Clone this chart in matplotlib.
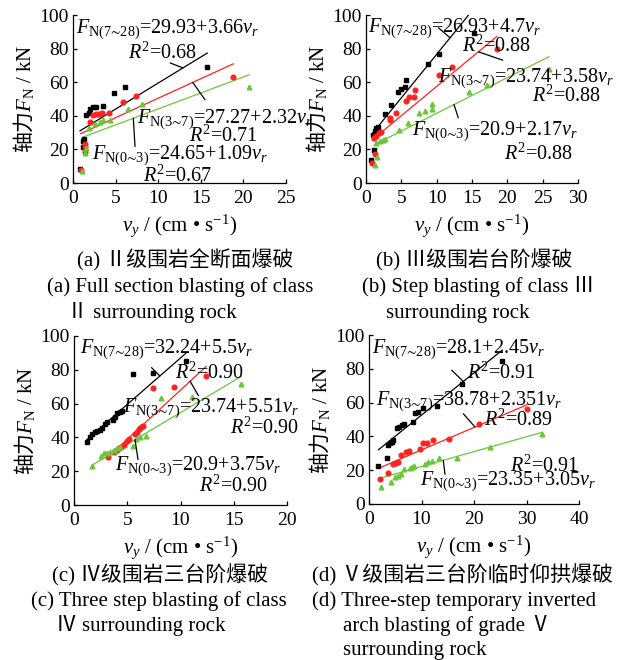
import matplotlib
matplotlib.use('Agg')
import matplotlib.pyplot as plt
import numpy as np

plt.rcParams['font.family'] = ['Liberation Serif', 'Noto Sans CJK SC']
plt.rcParams['mathtext.fontset'] = 'custom'
plt.rcParams['mathtext.rm'] = 'Liberation Serif'
plt.rcParams['mathtext.it'] = 'Liberation Serif:italic'
plt.rcParams['mathtext.bf'] = 'Liberation Serif:bold'

# ---- (a) class II, full section blasting ----
a_k_x = [0.82, 1.21, 1.21, 1.3, 1.53, 1.88, 2.0, 2.3, 2.66, 3.49, 4.85, 6.1, 15.76]
a_k_y = [8.1, 21.2, 25.2, 26.0, 40.5, 41.8, 43.9, 45.0, 45.0, 45.8, 53.4, 57.0, 69.2]
a_r_x = [0.9, 1.41, 1.41, 1.41, 2.0, 2.3, 2.7, 3.1, 3.36, 4.2, 5.83, 7.4, 18.8]
a_r_y = [7.7, 18.6, 21.2, 23.2, 36.5, 40.5, 41.0, 41.0, 41.5, 41.8, 48.4, 51.8, 62.9]
a_g_x = [1.02, 1.41, 1.53, 1.9, 2.6, 3.17, 3.49, 4.34, 6.49, 8.06, 20.7]
a_g_y = [7.1, 18.0, 20.6, 32.5, 35.4, 36.5, 37.5, 37.5, 44.0, 47.0, 57.0]
a_fit = [(28.5, 3.1), (27.27, 2.32), (25.1, 1.9)]
a_eq = [('29.93', '3.66', '0.68'), ('27.27', '2.32', '0.71'), ('24.65', '1.09', '0.67')]

# ---- (b) class III, step blasting ----
b_k_x = [0.75, 1.08, 0.94, 1.22, 1.41, 1.7, 2.73, 3.58, 4.52, 5.0, 5.46, 5.65, 8.77, 10.27, 15.3]
b_k_y = [13.7, 19.6, 28.6, 31.2, 32.5, 33.5, 41.1, 46.4, 54.4, 55.8, 57.0, 61.3, 70.6, 76.8, 89.0]
b_r_x = [0.85, 1.32, 1.08, 1.41, 1.79, 2.17, 3.4, 3.44, 4.24, 5.6, 6.12, 6.73, 6.87, 10.36, 12.15, 18.5]
b_r_y = [11.7, 17.3, 26.6, 28.0, 29.6, 30.4, 38.5, 37.5, 41.8, 49.0, 51.0, 51.0, 55.4, 64.3, 69.2, 79.6]
b_g_x = [1.22, 1.55, 1.41, 2.02, 2.36, 2.73, 4.7, 5.93, 7.44, 8.3, 9.33, 9.33, 14.6, 17.1, 25.9]
b_g_y = [10.7, 15.7, 23.6, 25.2, 25.6, 26.0, 31.5, 35.9, 41.5, 43.0, 44.2, 47.0, 54.4, 58.3, 67.7]
b_fit = [(24.8, 5.18), (22.6, 3.49), (20.3, 2.12)]
b_eq = [('26.93', '4.7', '0.88'), ('23.74', '3.58', '0.88'), ('20.9', '2.17', '0.88')]

# ---- (c) class IV, three step blasting ----
c_k_x = [1.19, 1.5, 1.72, 1.94, 2.19, 2.44, 2.66, 2.88, 3.07, 3.69, 3.82, 4.07, 4.32, 4.54, 5.57, 7.45, 10.49]
c_k_y = [37.1, 40.4, 41.8, 43.0, 43.8, 44.4, 45.7, 47.7, 48.9, 50.3, 52.2, 54.2, 55.2, 55.6, 77.3, 77.9, 85.2]
c_r_x = [3.19, 3.76, 4.01, 4.23, 4.44, 4.69, 4.95, 5.16, 5.7, 5.89, 6.1, 6.32, 6.5, 7.45, 9.39, 12.4]
c_r_y = [28.6, 31.2, 32.5, 33.5, 34.5, 35.5, 37.9, 39.0, 41.8, 43.0, 45.0, 46.3, 46.9, 69.4, 70.0, 76.5]
c_g_x = [1.72, 2.5, 2.82, 3.13, 3.38, 3.76, 4.07, 4.32, 5.57, 5.79, 6.2, 6.73, 8.2, 11.1, 15.7]
c_g_y = [23.3, 29.2, 30.6, 30.6, 31.6, 32.5, 33.5, 34.5, 35.1, 39.0, 40.4, 41.0, 63.5, 64.1, 71.4]
c_fit = [(32.0, 5.5), (9.8, 5.82), (17.2, 3.75)]
c_eq = [('32.24', '5.5', '0.90'), ('23.74', '5.51', '0.90'), ('20.9', '3.75', '0.90')]

# ---- (d) class V, three step with temporary invert ----
d_k_x = [1.78, 3.37, 3.68, 4.0, 4.32, 4.63, 5.27, 5.71, 6.22, 6.73, 8.44, 8.76, 9.27, 10.34, 12.9, 17.66, 25.4]
d_k_y = [22.7, 27.4, 34.9, 35.9, 36.9, 37.9, 44.8, 45.7, 46.7, 47.2, 48.3, 53.7, 54.3, 57.0, 58.2, 70.8, 84.6]
d_r_x = [2.1, 3.68, 4.63, 5.08, 5.59, 6.1, 6.98, 7.62, 9.71, 10.34, 10.99, 12.25, 15.24, 20.95, 30.03]
d_r_y = [14.8, 18.2, 23.5, 24.1, 24.7, 29.0, 30.6, 31.4, 32.5, 35.9, 35.9, 37.9, 38.5, 47.2, 56.2]
d_g_x = [2.29, 4.19, 4.95, 5.46, 6.1, 6.73, 7.81, 8.25, 8.63, 10.67, 11.3, 11.94, 13.33, 16.7, 23.05, 33.0]
d_g_y = [10.3, 13.2, 16.2, 16.8, 17.6, 20.7, 21.5, 22.1, 22.7, 23.5, 25.0, 25.6, 27.0, 27.0, 33.9, 41.2]
d_fit = [(27.6, 2.5), (18.7, 1.33), (13.4, 0.88)]
d_eq = [('28.1', '2.45', '0.91'), ('38.78', '2.351', '0.89'), ('23.35', '3.05', '0.91')]

# unicode tilde operator, written literally so mathtext does not pad it like \sim
ranges = ['7\u223c28', '3\u223c7', '0\u223c3']
markers = ['s', 'o', '^']
colors = ['#000000', '#ff2222', '#6cc63a']

W, H = 627, 660
fig = plt.figure(figsize=(W / 100, H / 100), dpi=100)


def box(l, r, b, t):
    return [l / W, 1 - b / H, (r - l) / W, (b - t) / H]


panels = [
    dict(rect=box(73, 286, 183, 15), xmax=25,
         pts=[(a_k_x, a_k_y), (a_r_x, a_r_y), (a_g_x, a_g_y)], fit=a_fit, eq=a_eq,
         eq_pos=[(0.014, 0.891), (0.299, 0.359), (0.088, 0.141)],
         r2_pos=[(0.26, 0.742), (0.546, 0.246), (0.33, 0.008)],
         lead=[(12.9, -12.7, 5), (14.05, 12.3, -17.3), (7.08, 1.7, -28.3)]),
    dict(rect=box(366, 578, 183, 15), xmax=30,
         pts=[(b_k_x, b_k_y), (b_r_x, b_r_y), (b_g_x, b_g_y)], fit=b_fit, eq=b_eq,
         eq_pos=[(0.011, 0.90), (0.341, 0.603), (0.216, 0.286)],
         r2_pos=[(0.451, 0.782), (0.782, 0.484), (0.651, 0.141)],
         lead=[(11.9, -11.7, 10), (15.9, 24.4, -8.4), (12.45, 4.3, -13.3)]),
    dict(rect=box(74, 287, 505, 336), xmax=20,
         pts=[(c_k_x, c_k_y), (c_r_x, c_r_y), (c_g_x, c_g_y)], fit=c_fit, eq=c_eq,
         eq_pos=[(0.028, 0.898), (0.232, 0.552), (0.192, 0.211)],
         r2_pos=[(0.474, 0.744), (0.732, 0.424), (0.588, 0.079)],
         lead=[(8.06, -8.3, 8.4), (10.9, 8.3, -14.3), (5.73, 3, -20)]),
    dict(rect=box(369, 579, 504, 335), xmax=40,
         pts=[(d_k_x, d_k_y), (d_r_x, d_r_y), (d_g_x, d_g_y)], fit=d_fit, eq=d_eq,
         eq_pos=[(0.013, 0.892), (0.033, 0.586), (0.243, 0.112)],
         r2_pos=[(0.465, 0.738), (0.548, 0.462), (0.671, 0.191)],
         lead=[(17.96, -11.6, 11.3), (20.19, -11.7, 13.3), (14.15, 1.7, -14)]),
]

for p in panels:
    ax = fig.add_axes(p['rect'])
    for (xs, ys), (b0, k), m, c in zip(p['pts'], p['fit'], markers, colors):
        ax.plot(xs, ys, ls='none', marker=m, ms=3.4, color=c, mec=c, zorder=3)
        xx = np.array([min(xs), max(xs)])
        ax.plot(xx, b0 + k * xx, color=c, lw=0.9, zorder=2)

    for i in range(3):
        b0, k = p['fit'][i]
        lx, dx, dy = p['lead'][i]
        ax.annotate('', xy=(lx, b0 + k * lx), xytext=(dx, dy), textcoords='offset pixels',
                    arrowprops=dict(arrowstyle='-', lw=0.9, color='k', shrinkA=0, shrinkB=0))
        a0, a1, r2 = p['eq'][i]
        ex, ey = p['eq_pos'][i]
        ax.text(ex, ey, r'$F_{\mathrm{N(%s)}}$=%s+%s$v_r$' % (ranges[i], a0, a1),
                transform=ax.transAxes, fontsize=14.5, ha='left', va='baseline', zorder=4)
        rx, ry = p['r2_pos'][i]
        ax.text(rx, ry, r'$R^2$=%s' % r2, transform=ax.transAxes, fontsize=14.5,
                ha='left', va='baseline', zorder=4)

    ax.set_xlim(0, p['xmax'])
    ax.set_ylim(0, 100)
    ax.set_xticks(np.arange(0, p['xmax'] + 1, 5 if p['xmax'] <= 30 else 10))
    ax.set_yticks(np.arange(0, 101, 20))
    for s in ['top', 'right']:
        ax.spines[s].set_visible(False)
    for s in ['left', 'bottom']:
        ax.spines[s].set_linewidth(0.9)
    ax.tick_params(direction='in', length=3, width=0.9, labelsize=14, pad=3)
    ax.tick_params(axis='x', pad=5)
    ax.set_xlabel(r'$v_y$ / (cm • s$^{-1}$)', fontsize=15)
    ax.xaxis.set_label_coords(0.5, -0.175)
    ax.set_ylabel(r'轴力$F_{\mathrm{N}}\ /\ \mathrm{kN}$', fontsize=15, family='Noto Sans CJK SC')
    ax.yaxis.set_label_coords(-0.175, 0.5)

# captions: (left px, baseline px, text)
captions = [
    (77, 266, '(a) Ⅱ级围岩全断面爆破'),
    (47, 292, '(a) Full section blasting of class'),
    (67, 318, 'Ⅱ surrounding rock'),
    (376, 266, '(b) Ⅲ级围岩台阶爆破'),
    (362, 292, '(b) Step blasting of class Ⅲ'),
    (386, 318, 'surrounding rock'),
    (52, 581, '(c) Ⅳ级围岩三台阶爆破'),
    (31, 606, '(c) Three step blasting of class'),
    (56, 631, 'Ⅳ surrounding rock'),
    (312, 581, '(d) Ⅴ级围岩三台阶临时仰拱爆破'),
    (312, 606, '(d) Three-step temporary inverted'),
    (343, 631, 'arch blasting of grade Ⅴ'),
    (343, 655, 'surrounding rock'),
]
for x, y, s in captions:
    fig.text(x / W, 1 - y / H, s, fontsize=15, ha='left', va='baseline')

fig.savefig('out.png', dpi=100)
